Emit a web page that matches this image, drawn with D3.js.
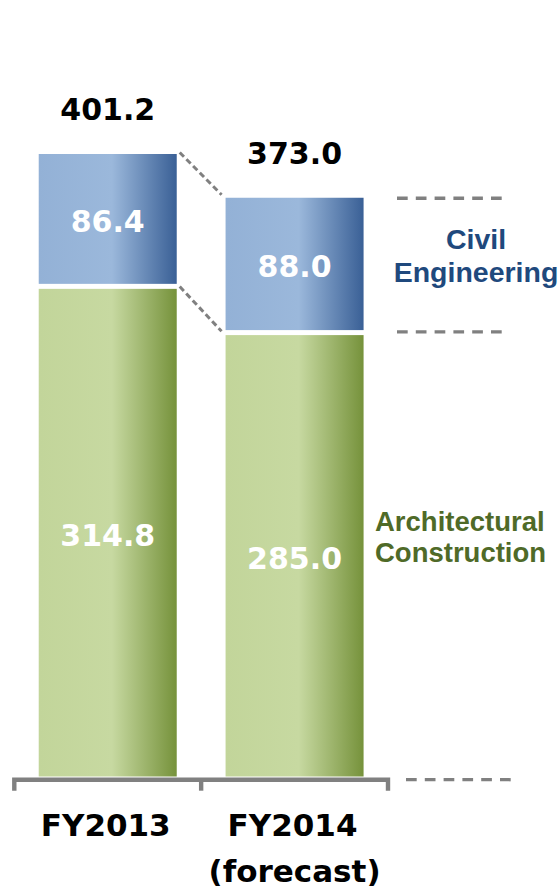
<!DOCTYPE html>
<html>
<head>
<meta charset="utf-8">
<script src="https://cdn.jsdelivr.net/npm/d3@7"></script>
<style>
  html, body { margin: 0; padding: 0; background: #ffffff; }
  svg { display: block; }
</style>
</head>
<body>
<div id="chart"></div>
<script>
// ---- data ----
const categories = ["FY2013", "FY2014"];
const categoryNotes = ["", "(forecast)"];
const architectural = [314.8, 285.0];
const civil = [86.4, 88.0];
const totals = [401.2, 373.0];
const civilLabel = ["Civil", "Engineering"];
const archLabel = ["Architectural", "Construction"];

// ---- setup ----
const W = 560, H = 896;
const svg = d3.select("#chart").append("svg").attr("width", W).attr("height", H);

const x = d3.scaleBand().domain(categories).range([14.3, 388])
  .paddingInner(0.2614).paddingOuter(0.1307);
const y = d3.scaleLinear().domain([0, 420]).range([776.5, 776.5 - 420 * 1.5516]);

const numFont = "'DejaVu Sans', Verdana, sans-serif";
const legFont = "'Liberation Sans', Arial, sans-serif";

// gradients
const defs = svg.append("defs");
function grad(id, stops) {
  const g = defs.append("linearGradient").attr("id", id)
    .attr("x1", "0%").attr("x2", "100%").attr("y1", "0%").attr("y2", "0%");
  stops.forEach(s => g.append("stop").attr("offset", s[0]).attr("stop-color", s[1]));
}
grad("gBlue", [["0%", "#93b1d6"], ["53%", "#9bb8db"], ["100%", "#3a6096"]]);
grad("gGreen", [["0%", "#c2d59a"], ["53%", "#c7d9a1"], ["100%", "#76923b"]]);

const rows = categories.map((c, i) => ({
  cat: c, note: categoryNotes[i], arch: architectural[i], civ: civil[i], total: totals[i]
}));

// green segments
svg.selectAll("rect.arch").data(rows).join("rect").attr("class", "arch")
  .attr("x", d => x(d.cat)).attr("width", x.bandwidth())
  .attr("y", d => y(d.arch) + 0.8).attr("height", d => y(0) - y(d.arch) - 0.8)
  .attr("fill", "url(#gGreen)");

// blue segments
svg.selectAll("rect.civ").data(rows).join("rect").attr("class", "civ")
  .attr("x", d => x(d.cat)).attr("width", x.bandwidth())
  .attr("y", d => y(d.arch + d.civ)).attr("height", d => y(d.arch) - y(d.arch + d.civ) - 4.2)
  .attr("fill", "url(#gBlue)");

// segment value labels
svg.selectAll("text.archv").data(rows).join("text").attr("class", "archv")
  .attr("x", d => x(d.cat) + x.bandwidth() / 2)
  .attr("y", d => (y(d.arch) + y(0)) / 2 + 14)
  .attr("text-anchor", "middle").attr("fill", "#ffffff")
  .attr("font-family", numFont).attr("font-weight", "bold").attr("font-size", 30)
  .text(d => d.arch.toFixed(1));

svg.selectAll("text.civv").data(rows).join("text").attr("class", "civv")
  .attr("x", d => x(d.cat) + x.bandwidth() / 2)
  .attr("y", d => (y(d.arch + d.civ) + y(d.arch) - 4) / 2 + 12.5)
  .attr("text-anchor", "middle").attr("fill", "#ffffff")
  .attr("font-family", numFont).attr("font-weight", "bold").attr("font-size", 30)
  .text(d => d.civ.toFixed(1));

// totals
svg.selectAll("text.tot").data(rows).join("text").attr("class", "tot")
  .attr("x", d => x(d.cat) + x.bandwidth() / 2)
  .attr("y", d => y(d.total) - 34)
  .attr("text-anchor", "middle").attr("fill", "#000000")
  .attr("font-family", numFont).attr("font-weight", "bold").attr("font-size", 30)
  .text(d => d.total.toFixed(1));

// connector dashed lines between bars
const r0 = rows[0], r1 = rows[1];
const xr0 = x(r0.cat) + x.bandwidth(), xl1 = x(r1.cat);
[[r0.total, r1.total], [r0.arch, r1.arch]].forEach(([a, b]) => {
  svg.append("line")
    .attr("x1", xr0 + 3).attr("y1", y(a) - 1.5)
    .attr("x2", xl1 - 4).attr("y2", y(b) - 3)
    .attr("stroke", "#808080").attr("stroke-width", 3)
    .attr("stroke-dasharray", "6,3.5");
});

// right-side guide dashes
const guides = [
  { v: r1.total, x1: 397, x2: 503, off: 0.5 },
  { v: r1.arch, x1: 397, x2: 503, off: -2.5 },
  { v: 0, x1: 406, x2: 511, off: 3.2 }
];
guides.forEach(g => {
  svg.append("line")
    .attr("x1", g.x1).attr("x2", g.x2)
    .attr("y1", y(g.v) + g.off).attr("y2", y(g.v) + g.off)
    .attr("stroke", "#808080").attr("stroke-width", 3.3)
    .attr("stroke-dasharray", "10.7,8.1");
});

// axis bracket
const xs = [x.range()[0], x.range()[0] + x.step(), x.range()[1]];
const axY = y(0) + 3.2;
svg.append("path")
  .attr("d", `M${xs[0]},${axY + 11} V${axY} H${xs[2]} V${axY + 11}`)
  .attr("fill", "none").attr("stroke", "#808080").attr("stroke-width", 4.4)
  .attr("stroke-linejoin", "miter");
svg.append("line")
  .attr("x1", xs[1]).attr("x2", xs[1]).attr("y1", axY).attr("y2", axY + 11)
  .attr("stroke", "#808080").attr("stroke-width", 4.4);

// category labels
svg.selectAll("text.cat").data(rows).join("text").attr("class", "cat")
  .attr("x", d => x(d.cat) + x.bandwidth() / 2 - 2)
  .attr("y", 836)
  .attr("text-anchor", "middle").attr("fill", "#000000")
  .attr("font-family", numFont).attr("font-weight", "bold").attr("font-size", 31)
  .text(d => d.cat);
svg.selectAll("text.note").data(rows.filter(d => d.note)).join("text").attr("class", "note")
  .attr("x", d => x(d.cat) + x.bandwidth() / 2)
  .attr("y", 882)
  .attr("text-anchor", "middle").attr("fill", "#000000")
  .attr("font-family", numFont).attr("font-weight", "bold").attr("font-size", 31)
  .text(d => d.note);

// series labels
const civ = svg.append("text").attr("text-anchor", "middle").attr("fill", "#1f497d")
  .attr("font-family", legFont).attr("font-weight", "bold").attr("font-size", 28.5);
civilLabel.forEach((t, i) => civ.append("tspan").attr("x", 476).attr("y", 249 + i * 33).text(t));

const arc = svg.append("text").attr("text-anchor", "start").attr("fill", "#4f6a28")
  .attr("font-family", legFont).attr("font-weight", "bold").attr("font-size", 27.5);
archLabel.forEach((t, i) => arc.append("tspan").attr("x", 375).attr("y", 530.5 + i * 31).text(t));
</script>
</body>
</html>
